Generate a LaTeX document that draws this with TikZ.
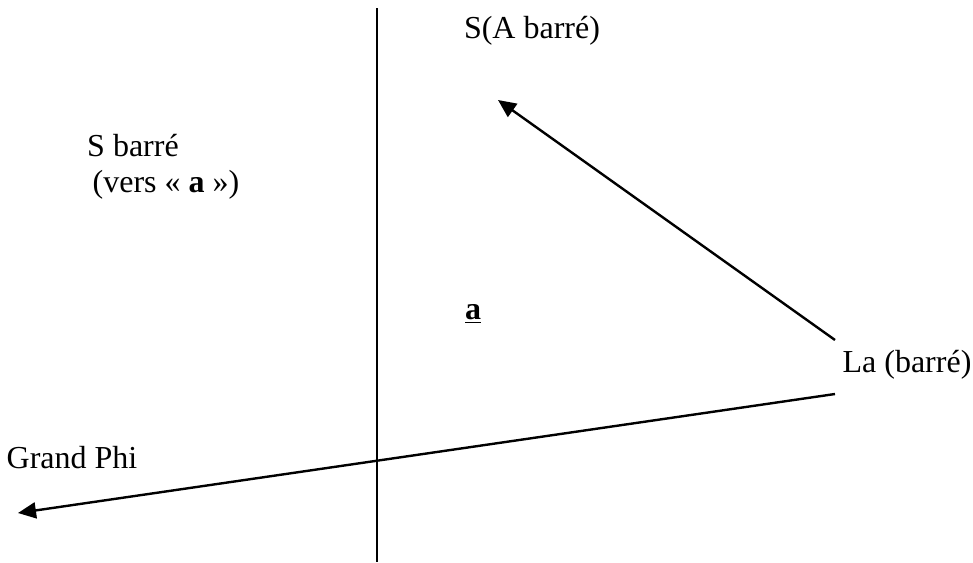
\documentclass[tikz,border=0pt]{standalone}
\usepackage{fontspec}
\setmainfont{Liberation Serif}
\usepackage{tikz}
\usetikzlibrary{arrows.meta,positioning,calc}

\begin{document}
\begin{tikzpicture}[>={Triangle[length=9pt,width=8pt]}, x=0.5pt, y=-0.5pt,
  lbl/.style={inner sep=0pt,font=\fontsize{16}{19}\selectfont},
  ln/.style={line width=1.2pt}]
  \useasboundingbox (0,0) rectangle (973,562);
  %--- labels ---
  \node[lbl] (sab)   at (532, 31)  {S(A barré)};
  \node[lbl] (sbar)  at (133, 146) {S barré};
  \node[lbl] (vers)  at (166, 185) {(vers « \textbf{a} »)};
  \node[lbl] (ua)    at (473, 314) {\underline{\textbf{a}}};
  \node[lbl] (labar) at (907, 365) {La (barré)};
  \node[lbl] (phi)   at (72, 458)  {Grand Phi};
  %--- axis ---
  \coordinate (vtop) at (377, 8);
  \coordinate (vbot) at (377, 562);
  \draw[ln] (vtop) -- (vbot);
  %--- arrows from La (barré) ---
  \coordinate (la1) at (835, 340);
  \coordinate (la2) at (835, 394);
  \coordinate (tipS) at (498, 100);
  \coordinate (tipP) at (18, 513);
  \draw[ln,->] (la1) -- (tipS);
  \draw[ln,->] (la2) -- (tipP);
\end{tikzpicture}
\end{document}
